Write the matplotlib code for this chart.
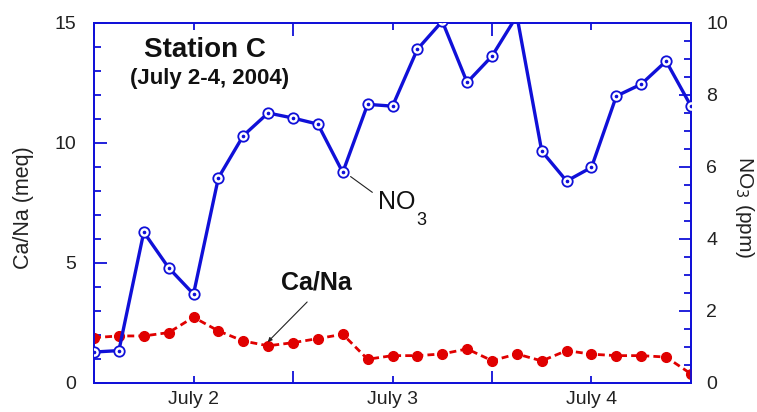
import matplotlib.pyplot as plt
from matplotlib.ticker import MultipleLocator

plt.rcParams['font.family'] = ['Liberation Sans', 'DejaVu Sans']

# sampling time, hours after July 2 00:00
hours = [0, 3, 6, 9, 12, 15, 18, 21, 24, 27, 30, 33, 36,
         39, 42, 45, 48, 51, 54, 57, 60, 63, 66, 69, 72]

# NO3 (ppm), right axis
no3 = [0.86, 0.90, 4.19, 3.20, 2.47, 5.70, 6.87, 7.50, 7.36, 7.19, 5.85, 7.74, 7.69,
       9.27, 10.05, 8.35, 9.08, 10.2, 6.44, 5.61, 5.99, 7.97, 8.30, 8.94, 7.69]

# Ca/Na (meq), left axis
cana = [1.89, 1.96, 1.96, 2.10, 2.74, 2.17, 1.75, 1.55, 1.68, 1.85, 2.03, 0.99, 1.14,
        1.14, 1.21, 1.42, 0.93, 1.21, 0.92, 1.35, 1.20, 1.14, 1.14, 1.08, 0.38]

day_ticks = [0, 24, 48, 72]
label_ticks = [12, 36, 60]
day_labels = ['July 2', 'July 3', 'July 4']

blue = '#1010d8'
red = '#e00000'
ink = '#222222'

fig = plt.figure(figsize=(7.57, 4.12), dpi=100)
ax = fig.add_axes([0.1242, 0.0704, 0.7886, 0.8738])
ax2 = ax.twinx()

ax.plot(hours, cana, color=red, lw=2, ls=(0, (2.5, 1.5)), marker='o', ms=7,
        mfc=red, mec=red, zorder=3)

ax2.plot(hours, no3, color=blue, lw=2.4, marker='o', ms=7.5, mfc='white',
         mec=blue, mew=1.3, zorder=3)
ax2.plot(hours, no3, ls='none', marker='o', ms=1.6, color=blue, zorder=4)

ax.set_xlim(0, 72)
ax.set_ylim(0, 15)
ax2.set_ylim(0, 10)

ax.set_xticks(day_ticks)
ax.set_xticks(label_ticks, minor=True)
ax.set_xticklabels([])
ax.set_xticklabels(day_labels, minor=True)
ax.yaxis.set_major_locator(MultipleLocator(5))
ax.yaxis.set_minor_locator(MultipleLocator(1))
ax2.yaxis.set_major_locator(MultipleLocator(2))
ax2.yaxis.set_minor_locator(MultipleLocator(0.5))

for a in (ax, ax2):
    for s in a.spines.values():
        s.set_color(blue)
        s.set_linewidth(1.3)
    a.tick_params(which='both', direction='in', color=blue, width=1.3,
                  labelsize=14, labelcolor=ink, top=True)
    a.tick_params(which='major', length=9)
    a.tick_params(which='minor', length=5)
ax.tick_params(axis='x', which='minor', pad=6)
ax.tick_params(axis='y', which='both', right=False, pad=13)
ax2.tick_params(axis='y', which='both', left=False, pad=11)

ax.set_ylabel('Ca/Na (meq)', fontsize=15.5, color=ink, va='center')
ax.yaxis.set_label_coords(-0.118, 0.486)
ax2.set_ylabel('NO$_3$ (ppm)', fontsize=15, color=ink, rotation=270, va='center')
ax2.yaxis.set_label_coords(1.090, 0.489)

ax.text(0.185, 0.925, 'Station C', transform=ax.transAxes, ha='center', va='center',
        fontsize=20, fontweight='bold', color='#111111')
ax.text(0.194, 0.847, '(July 2-4, 2004)', transform=ax.transAxes, ha='center', va='center',
        fontsize=16, fontweight='bold', color='#111111')

ax.text(0.475, 0.483, 'NO', transform=ax.transAxes, ha='left', va='baseline',
        fontsize=18, color='#111111')
ax.text(0.548, 0.45, '3', transform=ax.transAxes, ha='center', va='center',
        fontsize=13, color='#111111')
ax.annotate('', xy=(0.426, 0.578), xycoords='axes fraction',
            xytext=(0.470, 0.525), textcoords='axes fraction',
            arrowprops=dict(arrowstyle='-', color=ink, lw=0.8))

ax.text(0.372, 0.28, 'Ca/Na', transform=ax.transAxes, ha='center', va='center',
        fontsize=18, fontweight='bold', color='#111111')
ax.annotate('', xy=(0.291, 0.114), xycoords='axes fraction',
            xytext=(0.357, 0.225), textcoords='axes fraction',
            arrowprops=dict(arrowstyle='-|>', color=ink, lw=0.8,
                            mutation_scale=6, shrinkA=0, shrinkB=0))

fig.savefig('out.png', dpi=100)
